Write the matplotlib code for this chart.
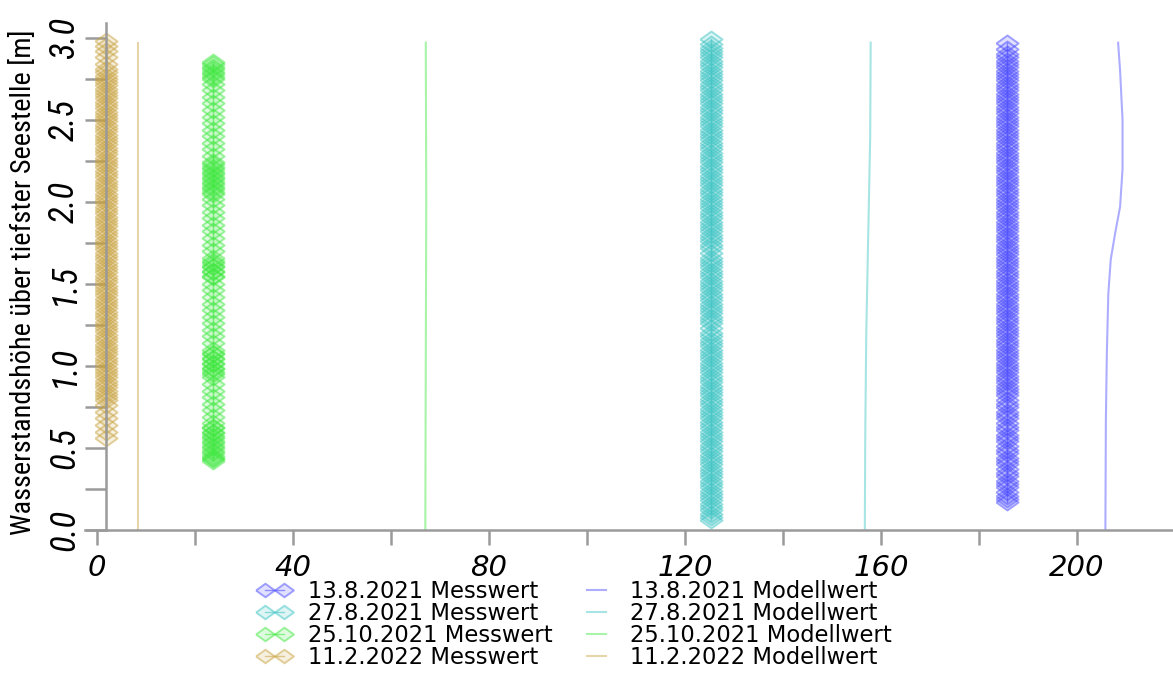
import matplotlib
matplotlib.use("Agg")
import matplotlib.pyplot as plt
from matplotlib import font_manager
from matplotlib.ticker import MultipleLocator
from matplotlib.colors import to_rgba
import numpy as np

# --- data -------------------------------------------------------------------
dates = ["13.8.2021", "27.8.2021", "25.10.2021", "11.2.2022"]
colors = ["#4a4aff", "#3cc4c4", "#3ee83e", "#c9a340"]

# measured values (constant per date) and the heights at which they were taken
meas_x = [185.7, 125.4, 23.7, 1.8]

blue_y = [0.17, 0.19, 0.21, 0.23, 0.26, 0.28, 0.30, 0.33, 0.35, 0.37, 0.40, 0.42,
          0.44, 0.47, 0.49, 0.51, 0.54, 0.56, 0.58, 0.61, 0.63, 0.65, 0.68, 0.70,
          0.72, 0.75, 0.77, 0.79, 0.82, 0.84, 0.86, 0.88, 0.90, 0.92, 0.94, 0.96,
          0.98, 1.00, 1.02, 1.04, 1.06, 1.08, 1.10, 1.12, 1.14, 1.16, 1.18, 1.20,
          1.22, 1.24, 1.26, 1.28, 1.30, 1.32, 1.34, 1.36, 1.38, 1.40, 1.42, 1.44,
          1.46, 1.48, 1.50, 1.52, 1.54, 1.56, 1.58, 1.60, 1.62, 1.64, 1.66, 1.68,
          1.70, 1.72, 1.74, 1.76, 1.78, 1.80, 1.82, 1.84, 1.86, 1.88, 1.90, 1.92,
          1.94, 1.96, 1.98, 2.00, 2.02, 2.04, 2.06, 2.08, 2.10, 2.12, 2.14, 2.16,
          2.18, 2.20, 2.22, 2.24, 2.26, 2.28, 2.30, 2.32, 2.34, 2.36, 2.38, 2.40,
          2.42, 2.44, 2.46, 2.48, 2.50, 2.52, 2.54, 2.56, 2.58, 2.60, 2.62, 2.64,
          2.66, 2.68, 2.70, 2.72, 2.74, 2.76, 2.78, 2.80, 2.82, 2.84, 2.86, 2.88,
          2.90, 2.93, 2.97]

cyan_y = [0.06, 0.08, 0.10, 0.12, 0.14, 0.16, 0.18, 0.20, 0.22, 0.24, 0.26, 0.28,
          0.30, 0.32, 0.34, 0.36, 0.38, 0.40, 0.42, 0.44, 0.46, 0.48, 0.50, 0.52,
          0.54, 0.56, 0.58, 0.60, 0.62, 0.64, 0.66, 0.68, 0.70, 0.72, 0.74, 0.76,
          0.78, 0.80, 0.82, 0.84, 0.86, 0.88, 0.90, 0.92, 0.94, 0.96, 0.98, 1.00,
          1.02, 1.04, 1.06, 1.08, 1.10, 1.12, 1.14, 1.16, 1.18, 1.20, 1.23, 1.26,
          1.28, 1.30, 1.32, 1.34, 1.36, 1.38, 1.40, 1.42, 1.44, 1.46, 1.48, 1.50,
          1.52, 1.54, 1.56, 1.58, 1.60, 1.62, 1.64, 1.66, 1.69, 1.72, 1.74, 1.76,
          1.78, 1.80, 1.82, 1.84, 1.86, 1.88, 1.90, 1.92, 1.94, 1.96, 1.98, 2.00,
          2.02, 2.04, 2.06, 2.08, 2.10, 2.12, 2.14, 2.16, 2.18, 2.20, 2.22, 2.24,
          2.26, 2.28, 2.30, 2.32, 2.34, 2.36, 2.38, 2.40, 2.42, 2.44, 2.46, 2.48,
          2.50, 2.52, 2.54, 2.56, 2.58, 2.60, 2.62, 2.64, 2.66, 2.68, 2.70, 2.72,
          2.74, 2.76, 2.78, 2.80, 2.82, 2.84, 2.86, 2.88, 2.90, 2.92, 2.94, 2.96,
          2.99]

green_y = [0.42, 0.43, 0.44, 0.45, 0.47, 0.48, 0.50, 0.51, 0.53, 0.54, 0.56, 0.57,
           0.59, 0.60, 0.62, 0.63, 0.65, 0.69, 0.73, 0.77, 0.81, 0.85, 0.89, 0.93,
           0.95, 0.96, 0.98, 0.99, 1.01, 1.02, 1.04, 1.05, 1.07, 1.08, 1.10, 1.14,
           1.18, 1.22, 1.26, 1.30, 1.34, 1.38, 1.42, 1.46, 1.50, 1.54, 1.55, 1.57,
           1.58, 1.60, 1.61, 1.63, 1.64, 1.66, 1.70, 1.74, 1.78, 1.82, 1.86, 1.90,
           1.94, 1.98, 2.02, 2.05, 2.06, 2.08, 2.09, 2.11, 2.12, 2.14, 2.15, 2.17,
           2.18, 2.20, 2.21, 2.23, 2.24, 2.28, 2.32, 2.36, 2.40, 2.44, 2.48, 2.52,
           2.56, 2.60, 2.64, 2.68, 2.72, 2.75, 2.76, 2.78, 2.79, 2.81, 2.82, 2.84,
           2.85]

gold_y = [0.56, 0.60, 0.64, 0.68, 0.72, 0.76, 0.79, 0.81, 0.83, 0.85, 0.87, 0.89,
          0.91, 0.93, 0.95, 0.97, 0.99, 1.01, 1.03, 1.05, 1.07, 1.09, 1.11, 1.13,
          1.15, 1.17, 1.19, 1.21, 1.23, 1.25, 1.27, 1.29, 1.31, 1.33, 1.35, 1.37,
          1.39, 1.41, 1.43, 1.45, 1.47, 1.49, 1.51, 1.53, 1.55, 1.57, 1.59, 1.61,
          1.63, 1.65, 1.67, 1.69, 1.71, 1.73, 1.75, 1.77, 1.79, 1.81, 1.83, 1.85,
          1.87, 1.89, 1.91, 1.93, 1.95, 1.97, 1.99, 2.01, 2.03, 2.05, 2.07, 2.09,
          2.11, 2.13, 2.15, 2.17, 2.19, 2.21, 2.23, 2.25, 2.27, 2.29, 2.31, 2.33,
          2.35, 2.37, 2.39, 2.41, 2.43, 2.45, 2.47, 2.49, 2.51, 2.53, 2.55, 2.57,
          2.59, 2.61, 2.63, 2.65, 2.67, 2.69, 2.71, 2.73, 2.75, 2.77, 2.79, 2.81,
          2.84, 2.88, 2.92, 2.95, 2.98]

meas_y = [blue_y, cyan_y, green_y, gold_y]

# model profiles (value, height)
model_blue_x = [205.8, 205.9, 206.1, 206.4, 206.9, 207.8, 208.8, 209.3, 209.3, 208.8, 208.4]
model_blue_y = [0.00, 0.67, 1.08, 1.44, 1.65, 1.81, 1.97, 2.20, 2.50, 2.80, 2.97]
model_cyan_x = [156.7, 156.8, 157.0, 157.4, 157.8, 157.9]
model_cyan_y = [0.00, 0.60, 1.20, 1.80, 2.40, 2.97]
model_green_x = [67.0, 67.1, 67.2, 67.1]
model_green_y = [0.00, 1.00, 2.00, 2.97]
model_gold_x = [8.3, 8.3]
model_gold_y = [0.00, 2.97]

model_x = [model_blue_x, model_cyan_x, model_green_x, model_gold_x]
model_y = [model_blue_y, model_cyan_y, model_green_y, model_gold_y]

x_major = [0, 40, 80, 120, 160, 200]
y_major = [0.0, 0.5, 1.0, 1.5, 2.0, 2.5, 3.0]

# --- fonts --------------------------------------------------------------------
names = {f.name for f in font_manager.fontManager.ttflist}
narrow = "Liberation Sans"
for cand in ("Liberation Sans Narrow", "Roboto Condensed", "Open Sans Condensed"):
    if cand in names:
        narrow = cand
        break

# --- figure -------------------------------------------------------------------
W, H = 1173, 675
fig = plt.figure(figsize=(W / 100, H / 100), dpi=100)
ax = fig.add_axes([85 / W, 1 - 530 / H, 1 - 85 / W, (530 - 23) / H])

diamond = [(-1, 0), (0, 0.72), (1, 0), (0, -0.72), (-1, 0)]

meas_handles = []
for c, xv, ys in zip(colors, meas_x, meas_y):
    ys = np.asarray(ys)
    h, = ax.plot(np.full(ys.shape, xv), ys, color=to_rgba(c, 0.55), lw=1.0,
                 marker=diamond, markersize=16,
                 markerfacecolor=to_rgba(c, 0.16),
                 markeredgecolor=to_rgba(c, 0.5), markeredgewidth=1.4)
    meas_handles.append(h)

model_handles = []
for c, mx, my in zip(colors, model_x, model_y):
    h, = ax.plot(mx, my, color=c, alpha=0.45, lw=1.5)
    model_handles.append(h)

ax.set_xlim(-2.45, 219.6)
ax.set_ylim(0, 3.09)

for s in ("top", "right"):
    ax.spines[s].set_visible(False)
spine_col = "#9a9a9a"
for s in ("left", "bottom"):
    ax.spines[s].set_color(spine_col)
    ax.spines[s].set_linewidth(1.8)
ax.spines["left"].set_position(("data", 1.8))

ax.set_xticks(x_major)
ax.xaxis.set_minor_locator(MultipleLocator(20))
ax.set_yticks(y_major)
ax.yaxis.set_minor_locator(MultipleLocator(0.25))

ax.tick_params(axis="x", which="both", direction="out", length=11, width=1.8,
               color=spine_col, pad=6)
ax.tick_params(axis="y", which="both", direction="out", length=15, width=1.8,
               color=spine_col, pad=3)

ax.set_xticklabels([str(v) for v in x_major], fontsize=21, fontstyle="italic",
                   family="DejaVu Sans")
ax.set_yticklabels([f"{v:.1f}" for v in y_major], fontsize=25, fontstyle="italic",
                   family=narrow, rotation=90, va="center")

ylab = ax.set_ylabel("Wasserstandshöhe über tiefster Seestelle [m]", fontsize=20,
                     family=narrow)
ax.yaxis.set_label_coords((37 - 85) / 1088, 0.489)

# fit the axis title to the axis height
fig.canvas.draw()
ext = ylab.get_window_extent()
ylab.set_fontsize(20 * 505 / ext.height)

labels = [f"{d} Messwert" for d in dates] + [f"{d} Modellwert" for d in dates]
leg = fig.legend(meas_handles + model_handles, labels, ncol=2,
                 loc="upper center", bbox_to_anchor=(0.49, 1 - 580 / H),
                 frameon=False, prop={"family": "DejaVu Sans", "size": 16.3},
                 handlelength=1.45, handletextpad=0.75, columnspacing=1.2,
                 labelspacing=-0.05, numpoints=2, markerscale=0.85,
                 borderpad=0, borderaxespad=0)

fig.savefig("out.png", dpi=100)
